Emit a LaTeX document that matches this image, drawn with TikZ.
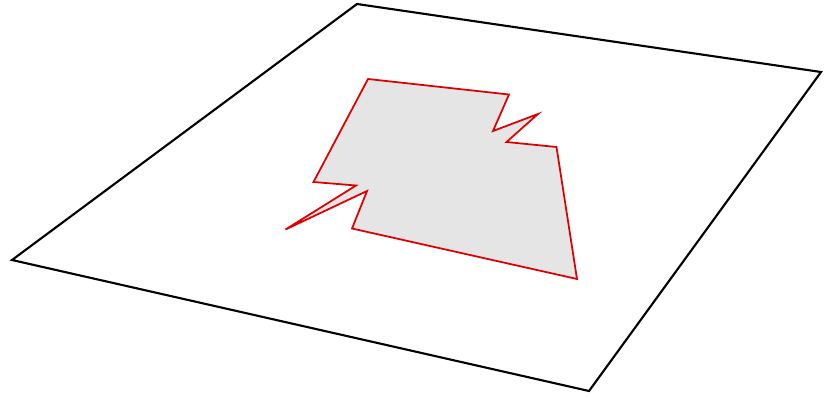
\documentclass[tikz,border=0pt]{standalone}
\usepackage{tikz}
\usetikzlibrary{calc}
\definecolor{regionred}{RGB}{220,0,0}
\definecolor{regionfill}{RGB}{229,229,229}
\tikzset{
  plane/.style={draw=black, line width=1.2pt, line join=miter},
  region/.style={draw=regionred, fill=regionfill, line width=1pt, line join=miter}
}
\begin{document}
\begin{tikzpicture}[x=0.02cm, y=-0.02cm]
            \useasboundingbox (0,0) rectangle (831,396);
            % Define corners of the plane
            \coordinate (P1) at (357, 4);
            \coordinate (P2) at (821, 72);
            \coordinate (P3) at (589, 391);
            \coordinate (P4) at (12, 260);
            % Define vertices of the region
            \coordinate (R1) at (368, 79);
            \coordinate (R2) at (509, 94.5);
            \coordinate (R3) at (493, 131);
            \coordinate (R4) at (538, 114);
            \coordinate (R5) at (506.5, 142);
            \coordinate (R6) at (556.5, 147);
            \coordinate (R7) at (577, 279);
            \coordinate (R8) at (352, 228.5);
            \coordinate (R9) at (367, 191);
            \coordinate (R10) at (285.5, 229.5);
            \coordinate (R11) at (356, 185.5);
            \coordinate (R12) at (313.5, 182);
            % Draw the plane
            \draw[plane] (P1) -- (P2) -- (P3) -- (P4) -- cycle;
            % Draw the region
            \draw[region] (R1) -- (R2) -- (R3) -- (R4) -- (R5) -- (R6) -- (R7)
              -- (R8) -- (R9) -- (R10) -- (R11) -- (R12) -- cycle;
\end{tikzpicture}
\end{document}
